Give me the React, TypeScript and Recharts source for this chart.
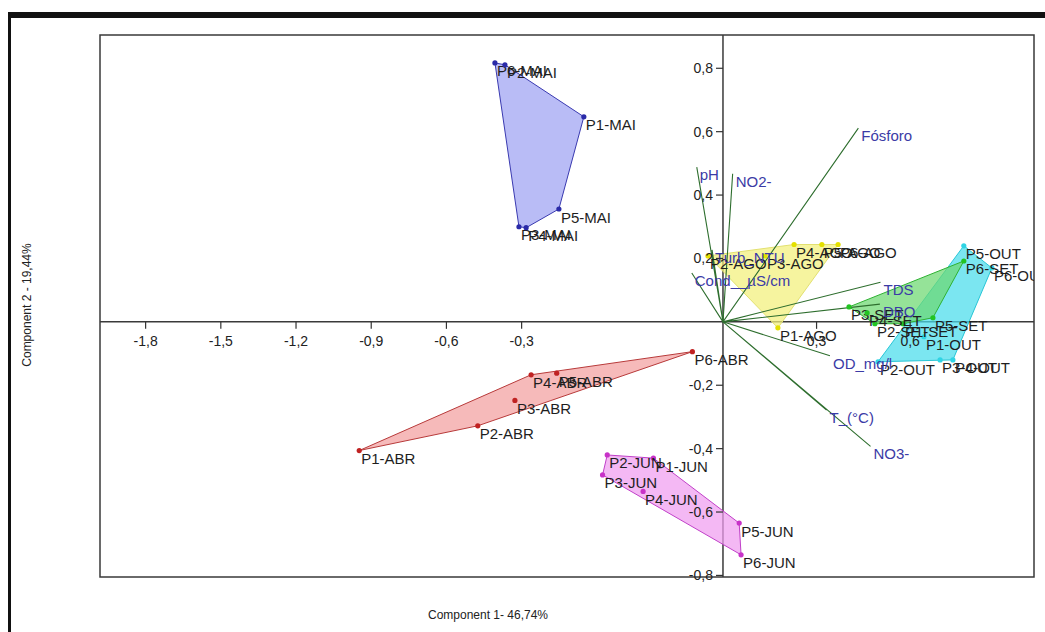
import React from 'react';
import { ScatterChart, Scatter, XAxis, YAxis, ReferenceLine, ReferenceArea } from 'recharts';

// ---- data (scores) ----
const MAI = [
  { name: 'P6-MAI', x: -0.731, y: 0.817 },
  { name: 'P2-MAI', x: -0.699, y: 0.811 },
  { name: 'P1-MAI', x: -0.446, y: 0.647 },
  { name: 'P5-MAI', x: -0.526, y: 0.356 },
  { name: 'P3-MAI', x: -0.654, y: 0.3 },
  { name: 'P4-MAI', x: -0.631, y: 0.297 },
];
const ABR = [
  { name: 'P1-ABR', x: -1.166, y: -0.406 },
  { name: 'P2-ABR', x: -0.786, y: -0.328 },
  { name: 'P3-ABR', x: -0.667, y: -0.248 },
  { name: 'P4-ABR', x: -0.615, y: -0.167 },
  { name: 'P5-ABR', x: -0.533, y: -0.162 },
  { name: 'P6-ABR', x: -0.098, y: -0.094 },
];
const JUN = [
  { name: 'P1-JUN', x: -0.223, y: -0.43 },
  { name: 'P2-JUN', x: -0.371, y: -0.42 },
  { name: 'P3-JUN', x: -0.386, y: -0.483 },
  { name: 'P4-JUN', x: -0.256, y: -0.535 },
  { name: 'P5-JUN', x: 0.052, y: -0.635 },
  { name: 'P6-JUN', x: 0.058, y: -0.735 },
];
const AGO = [
  { name: 'P1-AGO', x: 0.176, y: -0.019 },
  { name: 'P2-AGO', x: -0.048, y: 0.208 },
  { name: 'P3-AGO', x: 0.135, y: 0.208 },
  { name: 'P4-AGO', x: 0.228, y: 0.244 },
  { name: 'P5-AGO', x: 0.317, y: 0.244 },
  { name: 'P6-AGO', x: 0.369, y: 0.244 },
];
const SET = [
  { name: 'P1-SET', x: 0.577, y: -0.006 },
  { name: 'P2-SET', x: 0.487, y: -0.006 },
  { name: 'P3-SET', x: 0.404, y: 0.047 },
  { name: 'P4-SET', x: 0.462, y: 0.028 },
  { name: 'P5-SET', x: 0.673, y: 0.013 },
  { name: 'P6-SET', x: 0.772, y: 0.192 },
];
const OUT = [
  { name: 'P1-OUT', x: 0.644, y: -0.047 },
  { name: 'P2-OUT', x: 0.497, y: -0.126 },
  { name: 'P3-OUT', x: 0.696, y: -0.12 },
  { name: 'P4-OUT', x: 0.737, y: -0.12 },
  { name: 'P5-OUT', x: 0.772, y: 0.24 },
  { name: 'P6-OUT', x: 0.862, y: 0.17 },
];

// ---- data (loadings) ----
const LOADINGS = [
  { name: 'pH', x: -0.084, y: 0.488 },
  { name: 'NO2-', x: 0.031, y: 0.467 },
  { name: 'Fósforo', x: 0.434, y: 0.611 },
  { name: 'Turb_NTU', x: -0.035, y: 0.227 },
  { name: 'Cond__µS/cm', x: -0.1, y: 0.154 },
  { name: 'TDS', x: 0.505, y: 0.125 },
  { name: 'DBO', x: 0.503, y: 0.056 },
  { name: 'OD_mg/l', x: 0.343, y: -0.107 },
  { name: 'T_(°C)', x: 0.332, y: -0.278 },
  { name: 'NO3-', x: 0.473, y: -0.393 },
];

// ---- axes ----
const X_DOMAIN: [number, number] = [-1.997, 0.997];
const X_LEFT_DOMAIN: [number, number] = [-1.982, 1.744];
const Y_DOMAIN: [number, number] = [-0.805, 0.905];
const X_TICKS_LEFT = [-1.8, -1.5, -1.2, -0.9, -0.6, -0.3];
const X_TICKS_RIGHT = [0.3, 0.6];
const Y_TICKS = [0.8, 0.6, 0.4, 0.2, -0.2, -0.4, -0.6, -0.8];
const X_TITLE = 'Component 1- 46,74%';
const Y_TITLE = 'Component 2 - 19,44%';

const GROUPS = [
  { data: MAI, fill: '#9ea2f2', stroke: '#3a3ab0', dot: '#2a2aa8' },
  { data: ABR, fill: '#f2a0a0', stroke: '#b83a3a', dot: '#c02222' },
  { data: JUN, fill: '#f09cf0', stroke: '#c040c8', dot: '#c832c8' },
  { data: AGO, fill: '#f2f07a', stroke: '#e2e070', dot: '#e4e000' },
  { data: OUT, fill: '#48dcec', stroke: '#28c6d6', dot: '#30d4e4' },
  { data: SET, fill: '#6cd870', stroke: '#2eb232', dot: '#22c422' },
];

const W = 1045;
const H = 632;
const AX = 1; // thickness reserved by each (invisible) axis band
const M = { top: 35, right: 11, bottom: 55 - 2 * AX, left: 100 - AX };
const PLOT_LEFT = 100;
const PLOT_TOP = 35;
const PW = W - PLOT_LEFT - M.right;
const PH = H - PLOT_TOP - 55;
const originX = PLOT_LEFT + ((0 - X_DOMAIN[0]) / (X_DOMAIN[1] - X_DOMAIN[0])) * PW;
const originY = PLOT_TOP + ((Y_DOMAIN[1] - 0) / (Y_DOMAIN[1] - Y_DOMAIN[0])) * PH;

const FONT = "'Liberation Sans', Arial, Helvetica, sans-serif";
const fmt = (v: number) => v.toFixed(1).replace('.', ',');

function hull(pts: { x: number; y: number }[]) {
  const p = pts.map((q) => ({ x: q.x, y: q.y })).sort((a, b) => (a.x === b.x ? a.y - b.y : a.x - b.x));
  if (p.length < 3) return p;
  const cross = (o: any, a: any, b: any) => (a.x - o.x) * (b.y - o.y) - (a.y - o.y) * (b.x - o.x);
  const lower: any[] = [];
  for (const q of p) {
    while (lower.length >= 2 && cross(lower[lower.length - 2], lower[lower.length - 1], q) <= 0) lower.pop();
    lower.push(q);
  }
  const upper: any[] = [];
  for (let i = p.length - 1; i >= 0; i--) {
    const q = p[i];
    while (upper.length >= 2 && cross(upper[upper.length - 2], upper[upper.length - 1], q) <= 0) upper.pop();
    upper.push(q);
  }
  upper.pop();
  lower.pop();
  return lower.concat(upper);
}

const hullLine = (fill: string, stroke: string) => (props: any) => {
  const pts = hull(props.points || []);
  return (
    <polygon
      points={pts.map((q) => `${q.x},${q.y}`).join(' ')}
      fill={fill}
      fillOpacity={0.72}
      stroke={stroke}
      strokeWidth={1}
    />
  );
};

const Empty = () => <g />;

const pointShape = (color: string) => (props: any) => (
  <g>
    <circle cx={props.cx} cy={props.cy} r={2.6} fill={color} />
    <text x={props.cx + 2} y={props.cy + 13.5} fontSize={15} fontFamily={FONT} fill="#1e1e1e">
      {props.payload.name}
    </text>
  </g>
);

const loadingLabel = (props: any) => (
  <text x={props.cx + 3} y={props.cy + 13} fontSize={15} fontFamily={FONT} fill="#3b3ba6">
    {props.payload.name}
  </text>
);

const XTick = (props: any) => {
  const { x, payload } = props;
  return (
    <g>
      <line x1={x} x2={x} y1={originY} y2={originY + 7} stroke="#333" strokeWidth={1.2} />
      <text x={x} y={originY + 24} textAnchor="middle" fontSize={14} fontFamily={FONT} fill="#222">
        {fmt(payload.value)}
      </text>
    </g>
  );
};

const YTick = (props: any) => {
  const { y, payload } = props;
  return (
    <g>
      <line x1={originX - 7} x2={originX} y1={y} y2={y} stroke="#333" strokeWidth={1.2} />
      <text x={originX - 10} y={y + 5} textAnchor="end" fontSize={14} fontFamily={FONT} fill="#222">
        {fmt(payload.value)}
      </text>
    </g>
  );
};

const STAR = LOADINGS.flatMap((l) => [
  { x: 0, y: 0 },
  { x: l.x, y: l.y },
]);

export default function App() {
  return (
    <div style={{ position: 'absolute', left: 0, top: 0, width: W, height: H, background: '#fff', overflow: 'hidden' }}>
      <div
        style={{
          position: 'absolute',
          left: 8,
          top: 12,
          width: W - 8,
          height: H - 12,
          borderTop: '6px solid #111',
          borderLeft: '3px solid #111',
          boxSizing: 'border-box',
        }}
      />
      <div style={{ position: 'absolute', left: 0, top: 0 }}>
        <ScatterChart width={W} height={H} margin={M}>
          <XAxis
            xAxisId="main"
            type="number"
            dataKey="x"
            domain={X_DOMAIN}
            ticks={X_TICKS_RIGHT}
            allowDataOverflow
            interval={0}
            height={AX}
            axisLine={false}
            tickLine={false}
            tick={(p: any) => <XTick {...p} />}
          />
          <XAxis
            xAxisId="lbl"
            type="number"
            dataKey="x"
            domain={X_LEFT_DOMAIN}
            ticks={X_TICKS_LEFT}
            allowDataOverflow
            interval={0}
            height={AX}
            axisLine={false}
            tickLine={false}
            tick={(p: any) => <XTick {...p} />}
          />
          <YAxis
            yAxisId="main"
            type="number"
            dataKey="y"
            domain={Y_DOMAIN}
            ticks={Y_TICKS}
            allowDataOverflow
            interval={0}
            width={AX}
            axisLine={false}
            tickLine={false}
            tick={(p: any) => <YTick {...p} />}
          />
          <ReferenceArea
            xAxisId="main"
            yAxisId="main"
            x1={X_DOMAIN[0]}
            x2={X_DOMAIN[1]}
            y1={Y_DOMAIN[0]}
            y2={Y_DOMAIN[1]}
            fill="none"
            stroke="#3a3a3a"
            strokeWidth={1.5}
          />
          <ReferenceLine xAxisId="main" yAxisId="main" x={0} stroke="#3a3a3a" strokeWidth={1.5} />
          <ReferenceLine xAxisId="main" yAxisId="main" y={0} stroke="#3a3a3a" strokeWidth={1.5} />
          {GROUPS.map((g, i) => (
            <Scatter
              key={'hull' + i}
              xAxisId="main"
              yAxisId="main"
              data={g.data}
              line={hullLine(g.fill, g.stroke)}
              lineType="joint"
              shape={Empty}
              isAnimationActive={false}
            />
          ))}
          <Scatter
            xAxisId="main"
            yAxisId="main"
            data={STAR}
            line={{ stroke: '#2e6e2e', strokeWidth: 1.1 }}
            lineType="joint"
            shape={Empty}
            isAnimationActive={false}
          />
          {GROUPS.map((g, i) => (
            <Scatter
              key={'pts' + i}
              xAxisId="main"
              yAxisId="main"
              data={g.data}
              shape={pointShape(g.dot)}
              isAnimationActive={false}
            />
          ))}
          <Scatter
            xAxisId="main"
            yAxisId="main"
            data={LOADINGS}
            shape={loadingLabel}
            isAnimationActive={false}
          />
        </ScatterChart>
      </div>
      <div
        style={{
          position: 'absolute',
          left: 488,
          top: 615,
          transform: 'translate(-50%, -50%)',
          fontFamily: FONT,
          fontSize: 12,
          color: '#222',
          whiteSpace: 'nowrap',
        }}
      >
        {X_TITLE}
      </div>
      <div
        style={{
          position: 'absolute',
          left: 27,
          top: 305,
          transform: 'translate(-50%, -50%) rotate(-90deg)',
          fontFamily: FONT,
          fontSize: 12,
          color: '#222',
          whiteSpace: 'nowrap',
        }}
      >
        {Y_TITLE}
      </div>
    </div>
  );
}
